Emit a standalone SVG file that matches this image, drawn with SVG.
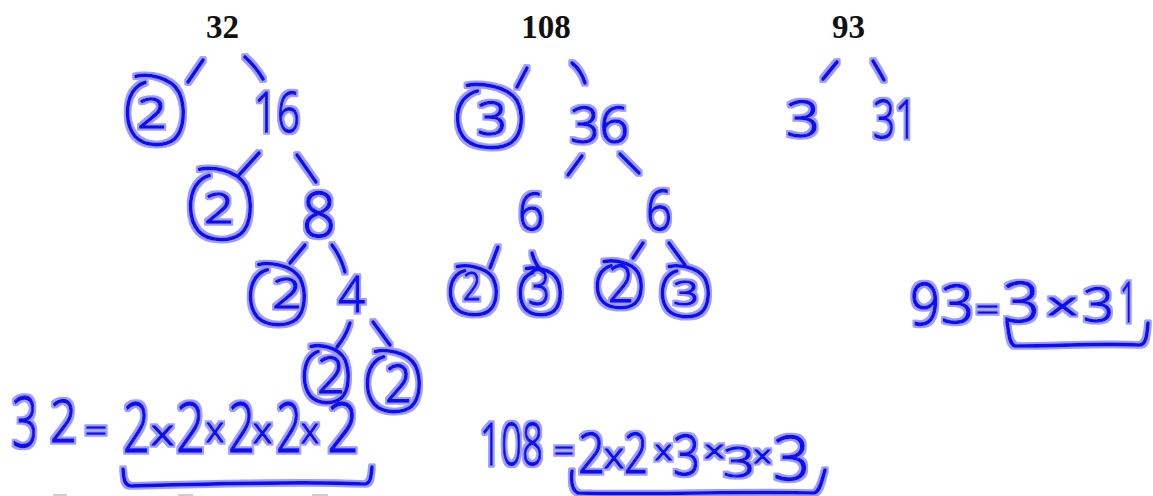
<svg xmlns="http://www.w3.org/2000/svg" xmlns:xlink="http://www.w3.org/1999/xlink" width="1153" height="496" viewBox="0 0 1153 496">
  <defs>
    <style>
      .title { font-family: "Liberation Serif", "Times New Roman", serif; font-size: 33px; font-weight: bold; fill: #111; text-anchor: middle; }
      .hw { font-family: "Open Sans", "DejaVu Sans", sans-serif; font-weight: 300; fill: #0a0af0; stroke: #0a0af0; stroke-width: 1.3; stroke-linejoin: round; }
      .pen { fill: none; stroke: #0a0af0; stroke-width: 3.6; stroke-linecap: round; stroke-linejoin: round; }
      .loop { fill: none; stroke: #0a0af0; stroke-width: 3.6; stroke-linecap: round; vector-effect: non-scaling-stroke; }
      .smudge { stroke: #cfcfcf; stroke-width: 2; }
    </style>
    <!-- soft marker halo round the pen strokes -->
    <filter id="ink" x="-5%" y="-5%" width="110%" height="110%">
      <feMorphology in="SourceAlpha" operator="dilate" radius="1.6" result="wide"/>
      <feFlood flood-color="#8484ff" flood-opacity="0.8"/>
      <feComposite in2="wide" operator="in" result="halo"/>
      <feMerge><feMergeNode in="halo"/><feMergeNode in="SourceGraphic"/></feMerge>
    </filter>
    <!-- hand-drawn ring in unit coordinates, scaled per use -->
    <path id="ring" class="loop" d="M-0.68,-1.02 C-0.3,-1.1 0.55,-1.02 0.86,-0.55 C1.1,-0.1 1.05,0.55 0.7,0.82 C0.35,1.06 -0.38,1.05 -0.72,0.74 C-1.06,0.4 -1.05,-0.22 -0.8,-0.56 C-0.68,-0.7 -0.55,-0.8 -0.36,-0.84"/>
  </defs>

  <rect width="1153" height="496" fill="#fff"/>

  <!-- printed numbers at the top of each tree -->
  <g id="root-32"><text class="title" x="222.5" y="37.5">32</text></g>
  <g id="root-108"><text class="title" x="546" y="37.5">108</text></g>
  <g id="root-93"><text class="title" x="848.5" y="37.5">93</text></g>

  <g filter="url(#ink)">
    <!-- branch strokes -->
    <g id="connectors" class="pen">
      <path d="M203,60 L188,82"/>
      <path d="M245,57 Q256,67 263,79"/>
      <path d="M259,153 L239,175"/>
      <path d="M297,155 L316,182"/>
      <path d="M305,245 L290,263"/>
      <path d="M332,245 Q341,257 345,272"/>
      <path d="M350,323 Q346,336 337,347"/>
      <path d="M373,322 L390,345"/>

      <path d="M527,68 L517,87"/>
      <path d="M572,63 Q581,70 585,83"/>
      <path d="M582,156 L568,175"/>
      <path d="M620,154 L639,173"/>
      <path d="M498,247 L490,268"/>
      <path d="M532,253 Q535,265 543,272"/>
      <path d="M643,243 L633,258"/>
      <path d="M669,243 L685,265"/>

      <path d="M837,62 L823,79"/>
      <path d="M873,61 Q878,69 884,80"/>
    </g>

    <!-- factor tree of 32 -->
    <g id="n32-2a"><use xlink:href="#ring" transform="translate(155,111) scale(28,34)"/><text class="hw" x="137" y="128" font-size="42" textLength="30" lengthAdjust="spacingAndGlyphs">2</text></g>
    <g id="n16"><text class="hw" x="254" y="132" font-size="55" textLength="46" lengthAdjust="spacingAndGlyphs">16</text></g>
    <g id="n32-2b"><use xlink:href="#ring" transform="translate(220,205) scale(30,35)"/><text class="hw" x="204" y="223" font-size="42" textLength="30" lengthAdjust="spacingAndGlyphs">2</text></g>
    <g id="n8"><text class="hw" x="302" y="237" font-size="63" textLength="34" lengthAdjust="spacingAndGlyphs">8</text></g>
    <g id="n32-2c"><use xlink:href="#ring" transform="translate(277,295) scale(27,30)"/><text class="hw" x="272" y="308" font-size="43" textLength="30" lengthAdjust="spacingAndGlyphs">2</text></g>
    <g id="n4"><text class="hw" x="338" y="312" font-size="49" textLength="27" lengthAdjust="spacingAndGlyphs">4</text></g>
    <g id="n32-2d"><use xlink:href="#ring" transform="translate(326,375) scale(22,28)"/><text class="hw" x="317" y="393" font-size="49" textLength="28" lengthAdjust="spacingAndGlyphs">2</text></g>
    <g id="n32-2e"><use xlink:href="#ring" transform="translate(393,382) scale(26,30)"/><text class="hw" x="385" y="402" font-size="52" textLength="27" lengthAdjust="spacingAndGlyphs">2</text></g>

    <!-- 32 = 2x2x2x2x2 -->
    <g id="eq32">
      <text class="hw" x="12" y="447" font-size="70" textLength="26" lengthAdjust="spacingAndGlyphs">3</text>
      <text class="hw" x="50" y="442" font-size="59" textLength="27" lengthAdjust="spacingAndGlyphs">2</text>
      <text class="hw" x="85" y="441" font-size="30" textLength="22" lengthAdjust="spacingAndGlyphs">=</text>
      <text class="hw" x="123" y="452" font-size="68" textLength="27" lengthAdjust="spacingAndGlyphs">2</text>
      <text class="hw" x="151" y="445" font-size="34" textLength="23" lengthAdjust="spacingAndGlyphs">x</text>
      <text class="hw" x="176" y="452" font-size="68" textLength="29" lengthAdjust="spacingAndGlyphs">2</text>
      <text class="hw" x="206" y="442" font-size="34" textLength="18" lengthAdjust="spacingAndGlyphs">x</text>
      <text class="hw" x="228" y="452" font-size="68" textLength="27" lengthAdjust="spacingAndGlyphs">2</text>
      <text class="hw" x="253" y="443" font-size="34" textLength="19" lengthAdjust="spacingAndGlyphs">x</text>
      <text class="hw" x="276" y="452" font-size="68" textLength="26" lengthAdjust="spacingAndGlyphs">2</text>
      <text class="hw" x="301" y="443" font-size="34" textLength="18" lengthAdjust="spacingAndGlyphs">x</text>
      <text class="hw" x="327" y="452" font-size="68" textLength="32" lengthAdjust="spacingAndGlyphs">2</text>
      <path class="pen" d="M123,469 C124,476 123,485 131,486 C200,484 300,481 364,484 C371,484 371,476 372,467"/>
    </g>

    <!-- factor tree of 108 -->
    <g id="n108-3a"><use xlink:href="#ring" transform="translate(489,117) scale(32,31)"/><text class="hw" x="477" y="135" font-size="46" textLength="30" lengthAdjust="spacingAndGlyphs">3</text></g>
    <g id="n36"><text class="hw" x="570" y="143" font-size="49" textLength="59" lengthAdjust="spacingAndGlyphs">36</text></g>
    <g id="n6a"><text class="hw" x="518" y="230" font-size="52" textLength="26" lengthAdjust="spacingAndGlyphs">6</text></g>
    <g id="n6b"><text class="hw" x="646" y="230" font-size="55" textLength="26" lengthAdjust="spacingAndGlyphs">6</text></g>
    <g id="n108-2a"><use xlink:href="#ring" transform="translate(473,291) scale(23,24)"/><text class="hw" x="463" y="300" font-size="38" textLength="18" lengthAdjust="spacingAndGlyphs">2</text></g>
    <g id="n108-3b"><use xlink:href="#ring" transform="translate(540,292) scale(20,23)"/><text class="hw" x="528" y="305" font-size="49" textLength="22" lengthAdjust="spacingAndGlyphs">3</text></g>
    <g id="n108-2b"><use xlink:href="#ring" transform="translate(619,285) scale(22,23)"/><text class="hw" x="608" y="302" font-size="52" textLength="26" lengthAdjust="spacingAndGlyphs">2</text></g>
    <g id="n108-3c"><use xlink:href="#ring" transform="translate(685,292) scale(23,25)"/><text class="hw" x="673" y="305" font-size="33" textLength="26" lengthAdjust="spacingAndGlyphs">3</text></g>

    <!-- 108 = 2x2x3x3x3 -->
    <g id="eq108">
      <text class="hw" x="480" y="465" font-size="59" textLength="63" lengthAdjust="spacingAndGlyphs">108</text>
      <text class="hw" x="554" y="461" font-size="30" textLength="20" lengthAdjust="spacingAndGlyphs">=</text>
      <text class="hw" x="578" y="473" font-size="56" textLength="27" lengthAdjust="spacingAndGlyphs">2</text>
      <text class="hw" x="604" y="468" font-size="34" textLength="20" lengthAdjust="spacingAndGlyphs">x</text>
      <text class="hw" x="624" y="473" font-size="56" textLength="24" lengthAdjust="spacingAndGlyphs">2</text>
      <text class="hw" x="655" y="460" font-size="28" textLength="17" lengthAdjust="spacingAndGlyphs">x</text>
      <text class="hw" x="673" y="475" font-size="56" textLength="27" lengthAdjust="spacingAndGlyphs">3</text>
      <text class="hw" x="705" y="458" font-size="24" textLength="19" lengthAdjust="spacingAndGlyphs">x</text>
      <text class="hw" x="723" y="477" font-size="42" textLength="32" lengthAdjust="spacingAndGlyphs">3</text>
      <text class="hw" x="754" y="463" font-size="24" textLength="17" lengthAdjust="spacingAndGlyphs">x</text>
      <text class="hw" x="773" y="480" font-size="60" textLength="37" lengthAdjust="spacingAndGlyphs">3</text>
      <path class="pen" d="M572,471 C571,480 571,490 578,493 C650,495 750,491 814,493 C820,492 822,480 825,470"/>
    </g>

    <!-- factor tree of 93 -->
    <g id="n93-3"><text class="hw" x="786" y="137" font-size="49" textLength="34" lengthAdjust="spacingAndGlyphs">3</text></g>
    <g id="n31"><text class="hw" x="873" y="138" font-size="54" textLength="44" lengthAdjust="spacingAndGlyphs">31</text></g>

    <!-- 93 = 3x31 -->
    <g id="eq93">
      <text class="hw" x="910" y="325" font-size="59" textLength="30" lengthAdjust="spacingAndGlyphs">9</text>
      <text class="hw" x="941" y="323" font-size="54" textLength="33" lengthAdjust="spacingAndGlyphs">3</text>
      <text class="hw" x="976" y="320" font-size="28" textLength="23" lengthAdjust="spacingAndGlyphs">=</text>
      <text class="hw" x="1003" y="322" font-size="56" textLength="37" lengthAdjust="spacingAndGlyphs">3</text>
      <text class="hw" x="1048" y="315" font-size="32" textLength="29" lengthAdjust="spacingAndGlyphs">x</text>
      <text class="hw" x="1083" y="322" font-size="48" textLength="31" lengthAdjust="spacingAndGlyphs">3</text>
      <text class="hw" x="1120" y="322" font-size="56" textLength="16" lengthAdjust="spacingAndGlyphs">1</text>
      <path class="pen" d="M1007,322 C1009,330 1008,343 1015,346 C1060,346 1100,343 1140,345 C1147,344 1147,332 1148,323"/>
    </g>
  </g>

  <!-- faint marks along the bottom edge -->
  <g id="edge-marks" class="smudge">
    <line x1="53" y1="495" x2="67" y2="495"/>
    <line x1="178" y1="495" x2="193" y2="495"/>
    <line x1="312" y1="495" x2="328" y2="495"/>
  </g>
</svg>
